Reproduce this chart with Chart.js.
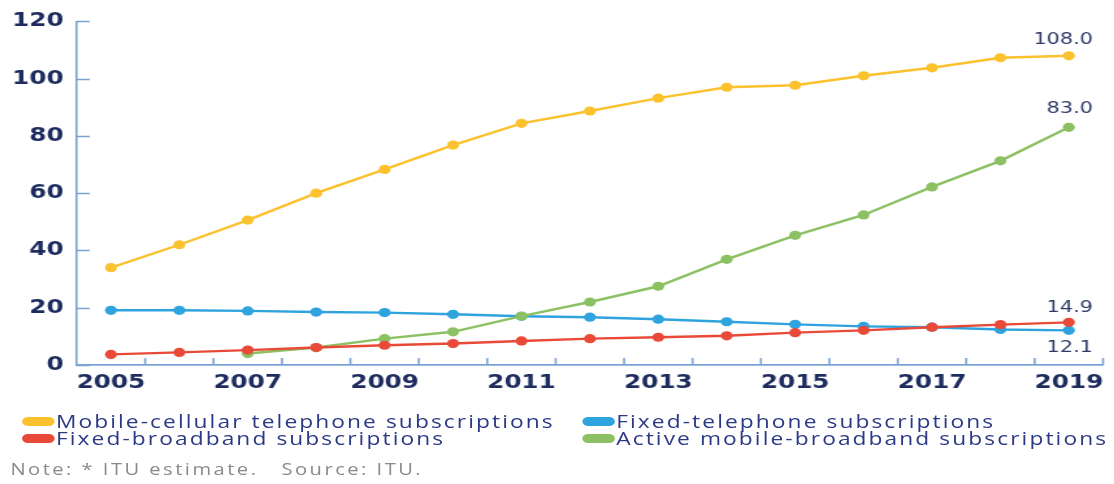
<!DOCTYPE html>
<html>
<head>
<meta charset="utf-8">
<script src="https://cdn.jsdelivr.net/npm/chart.js@4.4.1/dist/chart.umd.min.js"></script>
<style>
    html, body { margin: 0; padding: 0; background: #fff; width: 1114px; height: 484px; overflow: hidden; }
    /* the whole figure is laid out narrow and widened to 1114px */
    #stage { position: absolute; left: 0; top: 0; width: 857px; height: 484px; transform: scaleX(1.3); transform-origin: 0 0; }
    #plot { position: absolute; left: 0; top: 0; width: 857px; height: 400px; }
    #legend { position: absolute; left: 0; top: 412px; width: 857px; font-family: 'Open Sans', sans-serif; font-size: 17.5px; letter-spacing: 1.6px; color: #2c3a86; }
    .item { position: absolute; display: flex; align-items: center; white-space: nowrap; line-height: 18px; }
    .swatch { width: 25px; height: 9px; border-radius: 5px; margin-right: 1px; }
    #note { position: absolute; left: 8px; top: 458px; font-family: 'Open Sans', sans-serif; font-size: 15.5px; color: #8a8a8a; white-space: pre; letter-spacing: 1.9px; }
</style>
</head>
<body>
<div id="stage">
    <div id="plot"><canvas id="chart"></canvas></div>
    <div id="legend"></div>
    <div id="note">Note: * ITU estimate.   Source: ITU.</div>
</div>
<script>
const years = ['2005', '2006', '2007', '2008', '2009', '2010', '2011', '2012', '2013', '2014', '2015', '2016', '2017', '2018', '2019'];
const yTicks = [0, 20, 40, 60, 80, 100, 120];

const mobileCellular = [34.0, 42.0, 50.6, 60.0, 68.3, 76.8, 84.4, 88.7, 93.2, 97.0, 97.7, 101.0, 103.8, 107.3, 108.0];
const fixedTelephone = [19.1, 19.1, 18.9, 18.5, 18.3, 17.7, 17.0, 16.7, 16.0, 15.1, 14.2, 13.5, 13.2, 12.4, 12.1];
const fixedBroadband = [3.7, 4.4, 5.2, 6.1, 6.9, 7.5, 8.4, 9.2, 9.7, 10.2, 11.3, 12.1, 13.2, 14.1, 14.9];
const activeMobileBroadband = [null, null, 4.0, 6.1, 9.2, 11.6, 17.1, 22.0, 27.5, 36.9, 45.3, 52.4, 62.2, 71.3, 83.0];

const AXIS = '#7aa3d4';
const NAVY = '#1d2b5e';

// legend rows/columns, in reading order
const legendItems = [
    { label: 'Mobile-cellular telephone subscriptions', color: '#fbc22e', left: 17, top: 0 },
    { label: 'Fixed-telephone subscriptions', color: '#2ea3de', left: 448, top: 0 },
    { label: 'Fixed-broadband subscriptions', color: '#e94a38', left: 17, top: 17 },
    { label: 'Active mobile-broadband subscriptions', color: '#8cc163', left: 448, top: 17 },
];

function series(label, data, color, labelDy) {
    return {
        label, data,
        borderColor: color, backgroundColor: color,
        borderWidth: 2.4,
        pointRadius: 4.6, pointBorderWidth: 0,
        pointBackgroundColor: color,
        tension: 0, spanGaps: false,
        labelDy,
    };
}

// red drawn on top, then green, blue, yellow underneath
const datasets = [
    series('Fixed-broadband subscriptions', fixedBroadband, '#e94a38', -14),
    series('Active mobile-broadband subscriptions', activeMobileBroadband, '#8cc163', -18),
    series('Fixed-telephone subscriptions', fixedTelephone, '#2ea3de', 17),
    series('Mobile-cellular telephone subscriptions', mobileCellular, '#fbc22e', -16),
];

// short tick marks pointing into the plot area
const innerTicks = {
    id: 'innerTicks',
    beforeDatasetsDraw(chart) {
        const { ctx, chartArea, scales: { x, y } } = chart;
        ctx.save();
        ctx.strokeStyle = AXIS;
        ctx.lineWidth = 1.6;
        ctx.beginPath();
        y.ticks.forEach((t, i) => {
            const py = Math.round(y.getPixelForTick(i)) + 0.5;
            ctx.moveTo(chartArea.left, py);
            ctx.lineTo(chartArea.left + 10, py);
        });
        for (let i = 1; i <= years.length; i++) {
            const px = i < years.length
                ? (x.getPixelForValue(i - 1) + x.getPixelForValue(i)) / 2
                : chartArea.right;
            ctx.moveTo(px, chartArea.bottom);
            ctx.lineTo(px, chartArea.bottom - 7);
        }
        ctx.stroke();
        ctx.restore();
    }
};

// value of the last year printed beside each line
const endLabels = {
    id: 'endLabels',
    afterDatasetsDraw(chart) {
        const { ctx } = chart;
        ctx.save();
        ctx.font = '16px "DejaVu Sans", sans-serif';
        ctx.fillStyle = '#2d3a68';
        ctx.textAlign = 'right';
        ctx.textBaseline = 'middle';
        chart.data.datasets.forEach((ds, i) => {
            const last = ds.data.length - 1;
            const pt = chart.getDatasetMeta(i).data[last];
            ctx.fillText(ds.data[last].toFixed(1), pt.x + 18.5, pt.y + ds.labelDy);
        });
        ctx.restore();
    }
};

const tickFont = { family: "'DejaVu Sans', sans-serif", size: 19, weight: 'bold' };

new Chart(document.getElementById('chart'), {
    type: 'line',
    data: { labels: years, datasets },
    options: {
        responsive: true,
        maintainAspectRatio: false,
        animation: false,
        events: [],
        layout: { padding: { top: 19, right: 8.5, left: 0, bottom: 0 } },
        plugins: { legend: { display: false }, tooltip: { enabled: false } },
        scales: {
            x: {
                offset: true,
                grid: { display: false, drawTicks: false },
                border: { display: true, color: AXIS, width: 1.8 },
                ticks: {
                    autoSkip: false, maxRotation: 0, padding: 7,
                    color: NAVY, font: tickFont,
                    callback: (v, i) => (i % 2 === 0 ? years[i] : ''),
                },
                afterFit: (s) => { s.height = 35; },
            },
            y: {
                min: 0, max: 120,
                grid: { display: false, drawTicks: false },
                border: { display: true, color: AXIS, width: 1.6 },
                afterBuildTicks: (s) => { s.ticks = yTicks.map(v => ({ value: v })); },
                ticks: { padding: 10, color: NAVY, font: tickFont },
                afterFit: (s) => { s.width = 59; },
            },
        },
    },
    plugins: [innerTicks, endLabels],
});

const legend = document.getElementById('legend');
legendItems.forEach(it => {
    const el = document.createElement('div');
    el.className = 'item';
    el.style.left = it.left + 'px';
    el.style.top = it.top + 'px';
    el.innerHTML = `<span class="swatch" style="background:${it.color}"></span><span>${it.label}</span>`;
    legend.appendChild(el);
});
</script>
</body>
</html>
